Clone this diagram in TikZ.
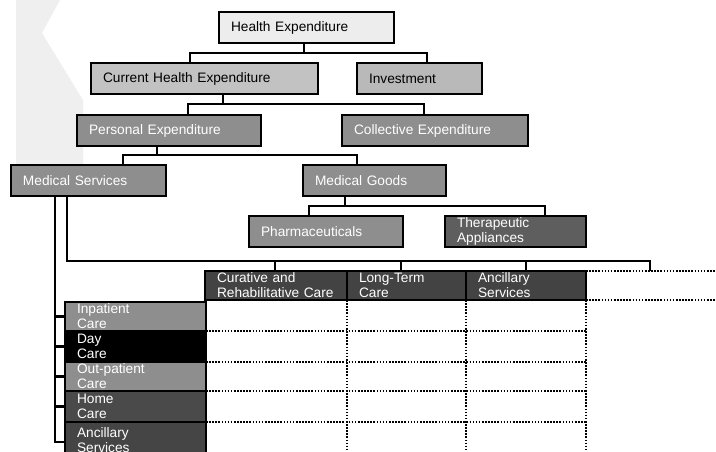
\documentclass[tikz,border=0pt]{standalone}
\usepackage{fontspec}
\setmainfont{Liberation Sans}
\usetikzlibrary{calc}
\definecolor{wmgray}{HTML}{EFEFEF}
\definecolor{cHE}{HTML}{EDEDED}
\definecolor{cCHE}{HTML}{C2C2C2}
\definecolor{cInv}{HTML}{B9B9B9}
\definecolor{cMid}{HTML}{8E8E8E}
\definecolor{cTA}{HTML}{5E5E5E}
\definecolor{cHead}{HTML}{434343}
\definecolor{cHome}{HTML}{4A4A4A}
\definecolor{cAncR}{HTML}{454545}
\begin{document}
\begin{tikzpicture}[x=1pt,y=-1pt,
  bx/.style={draw=black, line width=2.3pt, outer sep=0pt, inner xsep=12pt, inner ysep=0pt,
    anchor=north west, align=left, font=\fontsize{13.7}{15}\selectfont},
  wt/.style={text=white},
  conn/.style={line width=2.3pt},
  dotln/.style={line width=2.2pt, dash pattern=on 1.6pt off 1.5pt}]
\useasboundingbox (0,0) rectangle (716,451);
\clip (0,0) rectangle (716,451);
% watermark
\fill[wmgray] (16,0) -- (60,0) -- (42,33) -- (83,100) -- (83,187) -- (16,187) -- cycle;

% boxes
\node[bx, fill=cHE, text width=151pt, minimum height=31pt] (he) at (219,12) {Health Expenditure};
\node[bx, fill=cCHE, text width=203pt, minimum height=31pt] (che) at (91,63) {Current Health Expenditure};
\node[bx, fill=cInv, text width=101pt, minimum height=31pt] (inv) at (357,63) {Investment};
\node[bx, wt, fill=cMid, text width=160pt, minimum height=31pt] (pe) at (77,115) {Personal Expenditure};
\node[bx, wt, fill=cMid, text width=162pt, minimum height=31pt] (ce) at (342,115) {Collective Expenditure};
\node[bx, wt, fill=cMid, text width=131pt, minimum height=31pt] (ms) at (11,165) {Medical Services};
\node[bx, wt, fill=cMid, text width=119pt, minimum height=31pt] (mg) at (303,165) {Medical Goods};
\node[bx, wt, fill=cMid, text width=130pt, minimum height=31pt] (ph) at (249,216) {Pharmaceuticals};
\node[bx, wt, fill=cTA, text width=117pt, minimum height=31pt] (ta) at (445,216) {Therapeutic\\Appliances};

\node[bx, wt, fill=cHead, text width=118pt, minimum height=29pt] (cur) at (205,271) {Curative and\\Rehabilitative Care};
\node[bx, wt, fill=cHead, text width=95pt, minimum height=29pt] (lt) at (347,271) {Long-Term\\Care};
\node[bx, wt, fill=cHead, text width=96pt, minimum height=29pt] (anc) at (466,271) {Ancillary\\Services};

\node[bx, wt, fill=cMid, text width=117pt, minimum height=29pt] (r1) at (65,302) {Inpatient\\Care};
\node[bx, wt, fill=black, text width=117pt, minimum height=31pt] (r2) at (65,331) {Day\\Care};
\node[bx, wt, fill=cMid, text width=117pt, minimum height=29pt] (r3) at (65,362) {Out-patient\\Care};
\node[bx, wt, fill=cHome, text width=117pt, minimum height=31pt] (r4) at (65,391) {Home\\Care};
\node[bx, wt, fill=cAncR, text width=117pt, minimum height=36pt] (r5) at (65,422) {Ancillary\\Services};

% tree connectors
\draw[conn] ($(he.south west)+(85,0)$) -- ++(0,10) coordinate (b1);
\draw[conn] ($(che.north west)+(99,0)$) |- (b1) -| ($(inv.north west)+(70,0)$);
\draw[conn] ($(che.south west)+(132,0)$) -- ++(0,10) coordinate (b2);
\draw[conn] ($(pe.north west)+(111,0)$) |- (b2) -| ($(ce.north west)+(82,0)$);
\draw[conn] ($(pe.south west)+(80,0)$) -- ++(0,9) coordinate (b3);
\draw[conn] ($(ms.north west)+(112,0)$) |- (b3) -| ($(mg.north west)+(54,0)$);
\draw[conn] ($(mg.south west)+(42,0)$) -- ++(0,10) coordinate (b4);
\draw[conn] ($(ph.north west)+(60,0)$) |- (b4) -| ($(ta.north west)+(100,0)$);

% medical services to columns
\coordinate (b5) at (650,261);
\coordinate (xend) at (650,271);
\draw[conn] ($(ms.south west)+(56,0)$) |- (b5) -- (xend);
\draw[conn] ($(cur.north west)+(70,0)$) -- ++(0,-10);
\draw[conn] ($(lt.north west)+(54,0)$) -- ++(0,-10);
\draw[conn] ($(anc.north west)+(60,0)$) -- ++(0,-10);

% medical services to rows
\coordinate (tr) at ($(ms.south west)+(44,0)$);
\draw[conn] (tr) |- ($(r5.west)+(0,2)$);
\foreach \r in {r1,r2,r3,r4}{\draw[conn] (\r.west) -- (\r.west -| tr);}

% dotted grid
\coordinate (rt1) at (716,271);
\coordinate (rt2) at (716,300);
\coordinate (bot) at (0,451);
\draw[dotln] (anc.north east) -- (rt1);
\draw[dotln] (anc.south east) -- (rt2);
\foreach \r in {r1,r2,r3,r4}{\draw[dotln] (\r.south east) -- (\r.south east -| anc.east);}
\foreach \c in {cur,lt,anc}{\draw[dotln] (\c.south east) -- (\c.south east |- bot);}
\end{tikzpicture}
\end{document}
